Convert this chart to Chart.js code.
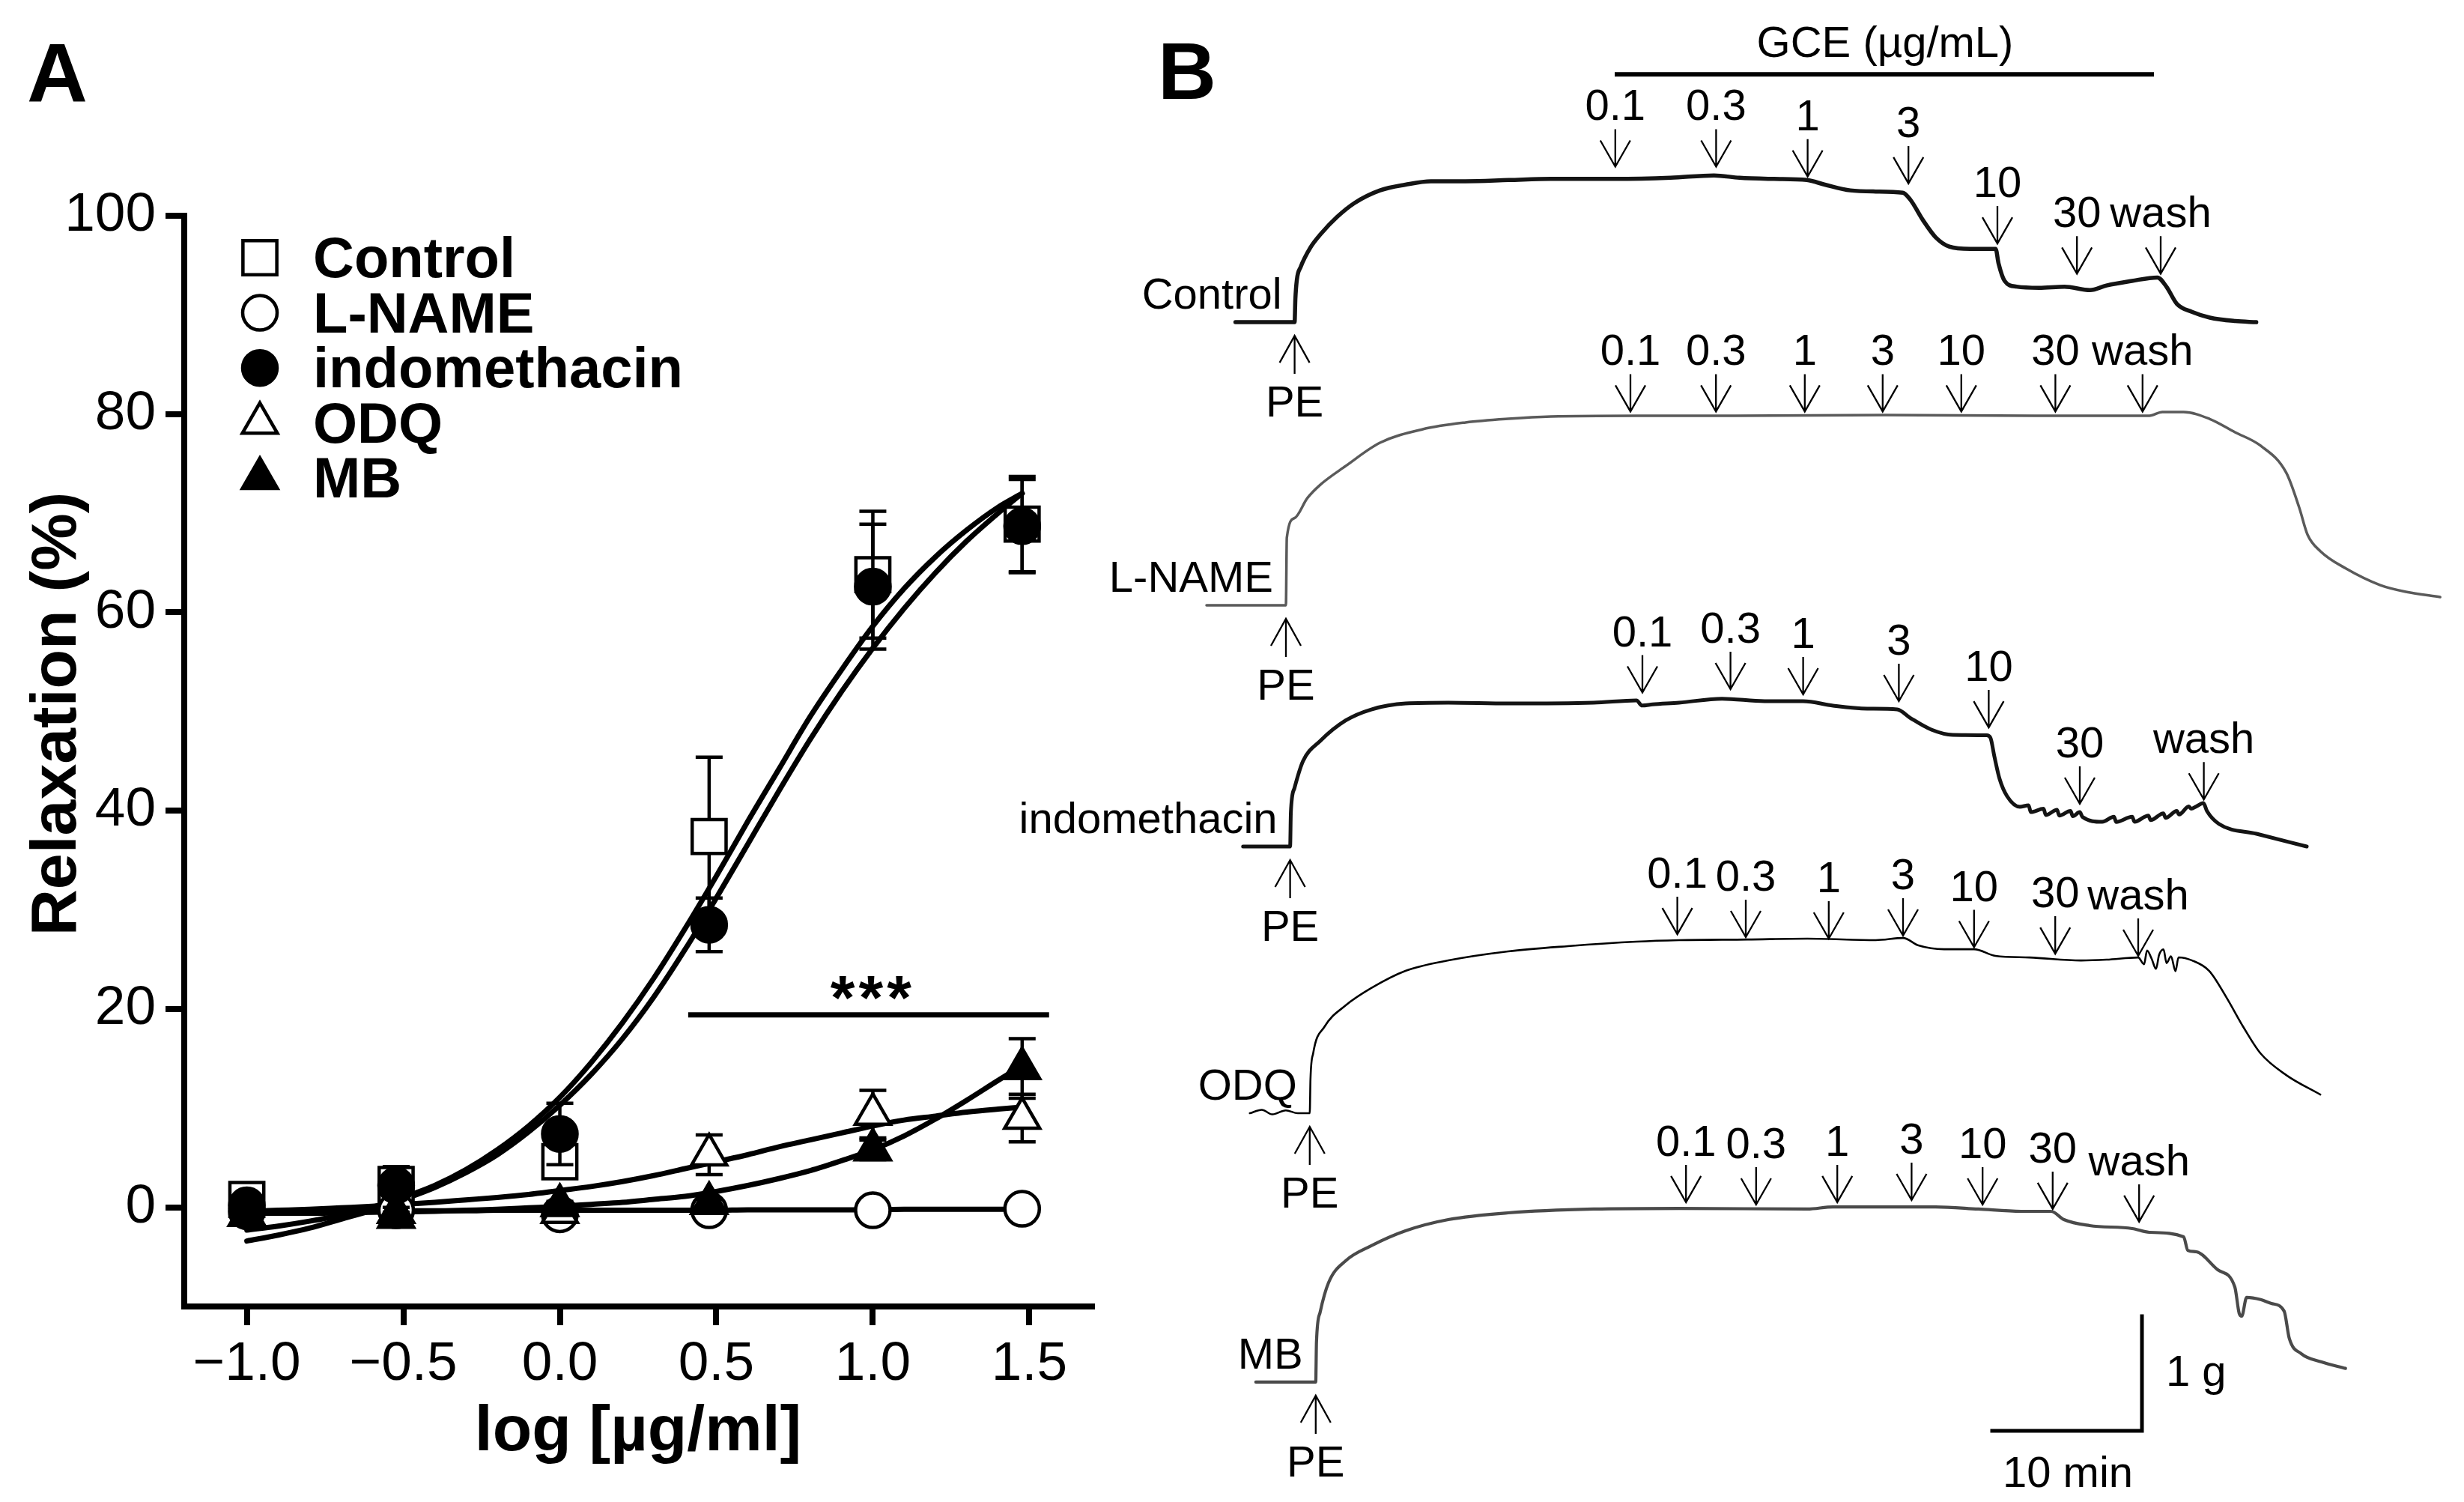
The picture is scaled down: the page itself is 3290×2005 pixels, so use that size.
<!DOCTYPE html>
<html>
<head>
<meta charset="utf-8">
<title>GCE relaxation</title>
<script src="https://cdn.jsdelivr.net/npm/chart.js@4.4.1/dist/chart.umd.min.js"></script>
<style>
  html, body { margin: 0; padding: 0; background: #fff; }
  #stage { position: relative; width: 3290px; height: 2005px; background: #fff; overflow: hidden; }
  #panelA { position: absolute; left: 0; top: 0; }
  #panelB { position: absolute; left: 1330px; top: 0; }
</style>
</head>
<body>
<div id="stage">
  <canvas id="panelA" width="1500" height="2005"></canvas>
  <canvas id="panelB" width="1960" height="2005"></canvas>
</div>
<script>
// ================= PANEL A DATA =================
const doseLog = [-1, -0.523, 0, 0.477, 1, 1.477];
const xTickValues = [-1.0, -0.5, 0.0, 0.5, 1.0, 1.5];
const xTickText = ['\u22121.0', '\u22120.5', '0.0', '0.5', '1.0', '1.5'];
const yTickValues = [0, 20, 40, 60, 80, 100];

const controlMean = [0.8, 2.3, 4.6, 37.4, 63.8, 68.9];
const controlSem  = [0.8, 1.8, 1.5, 8.0, 6.4, 4.8];
const lnameMean   = [-0.4, -0.3, -0.7, -0.3, -0.3, -0.15];
const lnameSem    = [0.3, 0.3, 0.5, 0.3, 0.3, 0.3];
const indoMean    = [0.2, 2.2, 7.4, 28.5, 62.6, 68.7];
const indoSem     = [0.6, 1.0, 3.1, 2.7, 6.3, 4.7];
const odqMean     = [-0.8, -0.5, -0.5, 5.3, 9.4, 9.0];
const odqSem      = [0.5, 0.5, 0.5, 2.0, 2.4, 2.4];
const mbMean      = [-0.8, -1.0, 0.2, 0.4, 5.8, 14.0];
const mbSem       = [0.5, 0.5, 0.4, 0.4, 1.0, 3.0];

const fitX = [-1.0,-0.9,-0.8,-0.7,-0.6,-0.5,-0.4,-0.3,-0.2,-0.1,0.0,0.1,0.2,0.3,0.4,0.5,0.6,0.7,0.8,0.9,1.0,1.1,1.2,1.3,1.4,1.477];
const controlFit = [-2.3,-1.9,-1.4,-0.8,0.0,1.0,2.2,3.8,5.8,8.2,11.1,14.6,18.6,23.1,28.1,33.4,38.9,44.2,49.5,54.2,58.6,62.4,65.6,68.3,70.6,72.0];
const lnameFit   = [-0.45,-0.45,-0.4,-0.4,-0.4,-0.35,-0.35,-0.35,-0.3,-0.3,-0.3,-0.3,-0.3,-0.3,-0.3,-0.3,-0.25,-0.25,-0.25,-0.25,-0.25,-0.2,-0.2,-0.2,-0.2,-0.2];
const indoFit    = [-3.4,-2.8,-2.1,-1.2,-0.3,0.8,2.0,3.5,5.3,7.6,10.3,13.4,17.0,21.2,26.0,31.2,36.6,42.0,47.2,52.0,56.4,60.4,64.0,67.2,70.0,72.0];
const odqFit     = [-0.4,-0.3,-0.2,-0.05,0.1,0.3,0.5,0.75,1.0,1.3,1.7,2.1,2.6,3.2,3.9,4.6,5.3,6.1,6.8,7.5,8.2,8.8,9.2,9.6,9.9,10.1];
const mbFit      = [-0.6,-0.6,-0.6,-0.55,-0.5,-0.45,-0.4,-0.3,-0.2,-0.05,0.1,0.3,0.5,0.8,1.1,1.6,2.2,2.9,3.7,4.7,5.8,7.2,8.9,10.8,12.8,14.3];

const sigBar = { x1: 0.41, x2: 1.563, y: 19.4, label: '***', labelX: 0.995, labelY: 22.55 };

// ================= PANEL B DATA (time in min after PE, tension in g above baseline) =================
const doseLabels = ['0.1', '0.3', '1', '3', '10', '30', 'wash'];

const controlT = [-3.95,0,0.05,0.15,0.4,1.05,1.75,2.85,4.0,5.7,7.4,9.1,11.4,14.3,17.1,21.4,25.1,28.0,29.7,32.0,34.2,35.4,37.1,38.8,40.6,41.1,41.95,42.8,43.7,45.1,46.8,47.0,47.4,48.2,49.7,51.4,53.1,54.2,55.9,57.6,58.2,58.9,59.9,61.1,62.8,64.2];
const controlG = [0,0,0.2,0.37,0.48,0.65,0.77,0.92,1.04,1.15,1.20,1.23,1.23,1.24,1.25,1.25,1.26,1.28,1.26,1.25,1.24,1.20,1.15,1.14,1.13,1.07,0.89,0.74,0.66,0.64,0.64,0.51,0.36,0.31,0.30,0.31,0.28,0.32,0.36,0.39,0.31,0.16,0.09,0.04,0.01,0.0];
const controlEvT = [21.41, 28.14, 34.25, 40.98, 46.92, 52.23, 57.82];
const controlTip = [1.357, 1.357, 1.27, 1.21, 0.686, 0.423, 0.423];

const lnameT = [-5.3,0,0.06,0.57,1.43,2.28,4.0,6.28,9.13,11.99,14.84,17.69,23.4,30,40,50,57.65,58.51,59.93,61.65,63.36,65.07,66.78,67.64,68.21,69.07,70.78,73.06,74.77,77.06];
const lnameG = [0,0,0.59,0.76,0.935,1.05,1.216,1.418,1.536,1.595,1.627,1.647,1.654,1.654,1.66,1.654,1.654,1.686,1.686,1.627,1.51,1.392,1.157,0.856,0.614,0.471,0.32,0.176,0.118,0.072];
const lnameEvT = [23.0, 28.71, 34.64, 39.84, 45.09, 51.37, 57.19];
const lnameTip = [1.69, 1.69, 1.69, 1.69, 1.69, 1.69, 1.69];

const indoT = [-3.14,0,0.05,0.29,0.86,2.0,3.71,5.42,7.71,10.56,14.56,20.26,23.12,23.5,24.2,25.97,28.83,31.68,34.25,36.25,38.53,40.53,41.38,42.81,44.24,46.5,46.75,47.02,47.37,47.87,48.72,49.3,49.45,50.3,50.45,51.2,51.35,52.1,52.25,52.72,52.9,54.22,55.0,55.15,56.22,56.37,57.3,57.45,58.3,58.45,59.2,59.35,60.0,60.15,60.5,60.97,61.22,62.02,64.52,67.87];
const indoG = [0,0,0.3,0.51,0.745,0.92,1.10,1.196,1.248,1.255,1.248,1.255,1.275,1.23,1.24,1.255,1.29,1.268,1.268,1.229,1.203,1.196,1.124,1.02,0.974,0.97,0.95,0.784,0.588,0.438,0.346,0.36,0.30,0.33,0.275,0.32,0.27,0.31,0.265,0.30,0.258,0.216,0.26,0.215,0.26,0.216,0.27,0.23,0.29,0.25,0.31,0.28,0.35,0.33,0.35,0.379,0.307,0.196,0.111,0.0];
const indoEvT = [23.52, 29.40, 34.25, 40.64, 46.64, 52.72, 61.0];
const indoTip = [1.343, 1.373, 1.327, 1.268, 1.039, 0.373, 0.41];

const odqT = [-4.0,-3.2,-2.5,-1.6,-0.8,0,0.05,0.23,0.97,2.40,4.11,6.39,9.25,13.24,17.24,21.80,24.66,29.22,33.22,37.79,39.61,40.64,42.35,44.35,45.78,48.06,51.49,53.20,55.31,55.7,55.9,56.2,56.5,56.7,57.0,57.2,57.5,57.8,58.0,58.91,60.05,61.19,62.33,63.47,65.19,67.47];
const odqG = [0,0.03,-0.01,0.025,0.0,0,0.3,0.523,0.752,0.941,1.092,1.242,1.333,1.412,1.458,1.497,1.51,1.516,1.523,1.51,1.529,1.464,1.431,1.431,1.373,1.359,1.333,1.34,1.359,1.30,1.42,1.35,1.26,1.38,1.43,1.31,1.37,1.24,1.36,1.333,1.242,1.013,0.752,0.523,0.333,0.163];
const odqEvT = [24.54, 29.11, 34.65, 39.61, 44.35, 49.77, 55.31];
const odqTip = [1.562, 1.536, 1.523, 1.549, 1.448, 1.392, 1.373];

const mbT = [-4.0,0,0.05,0.29,0.86,2.0,3.71,5.99,8.85,12.84,18.55,24.26,32.82,34.53,41.38,44.24,47.09,49.09,49.95,51.66,54.51,55.65,57.94,58.22,58.79,60.22,61.36,61.65,61.82,62.15,63.08,63.8,64.65,65.0,65.8,67.15,68.75];
const mbG = [0,0,0.35,0.608,0.869,1.059,1.19,1.32,1.418,1.477,1.51,1.516,1.51,1.529,1.529,1.51,1.49,1.49,1.418,1.366,1.34,1.307,1.268,1.15,1.137,0.98,0.83,0.6,0.575,0.739,0.72,0.686,0.62,0.379,0.248,0.176,0.12];
const mbEvT = [24.72, 29.40, 34.82, 39.78, 44.52, 49.20, 54.97];
const mbTip = [1.569, 1.549, 1.569, 1.588, 1.549, 1.51, 1.399];

const scaleBarMin = 10;   // minutes
const scaleBarG = 1;      // grams

// ================= LAYOUT / STYLE =================
const FONT = '"Liberation Sans", Arial, Helvetica, sans-serif';

const seriesA = [
  { label: 'Control',      mean: controlMean, sem: controlSem, fit: controlFit, style: 'rect',     r: 32, fill: '#ffffff', order: 5 },
  { label: 'L-NAME',       mean: lnameMean,   sem: lnameSem,   fit: lnameFit,   style: 'circle',   r: 23, fill: '#ffffff', order: 4 },
  { label: 'indomethacin', mean: indoMean,    sem: indoSem,    fit: indoFit,    style: 'circle',   r: 23, fill: '#000000', order: 3 },
  { label: 'ODQ',          mean: odqMean,     sem: odqSem,     fit: odqFit,     style: 'triangle', r: 27, fill: '#ffffff', order: 2 },
  { label: 'MB',           mean: mbMean,      sem: mbSem,      fit: mbFit,      style: 'triangle', r: 27, fill: '#000000', order: 1 }
];

const tracesB = [
  { name: 'Control',      t: controlT, g: controlG, evT: controlEvT, tip: controlTip, place: { t0: 11.43, base: 10.294 }, color: '#141414', width: 5.5 },
  { name: 'L-NAME',       t: lnameT,   g: lnameG,   evT: lnameEvT,   tip: lnameTip,   place: { t0: 10.85, base: 7.824 },  color: '#5a5a5a', width: 3.5 },
  { name: 'indomethacin', t: indoT,    g: indoG,    evT: indoEvT,    tip: indoTip,    place: { t0: 11.13, base: 5.719 },  color: '#141414', width: 5 },
  { name: 'ODQ',          t: odqT,     g: odqG,     evT: odqEvT,     tip: odqTip,     place: { t0: 12.44, base: 3.392 },  color: '#000000', width: 2.6 },
  { name: 'MB',           t: mbT,      g: mbG,      evT: mbEvT,      tip: mbTip,      place: { t0: 12.84, base: 1.046 },  color: '#4a4a4a', width: 4.2 }
];

// ================= HELPERS =================
function drawMarker(ctx, style, r, x, y, fill, bw) {
  ctx.save();
  ctx.fillStyle = fill; ctx.strokeStyle = '#000'; ctx.lineWidth = bw;
  ctx.beginPath();
  if (style === 'rect') {
    const s = 2 * r * Math.SQRT1_2;
    ctx.rect(x - s / 2, y - s / 2, s, s);
  } else if (style === 'circle') {
    ctx.arc(x, y, r, 0, Math.PI * 2);
  } else {
    ctx.moveTo(x, y - r);
    ctx.lineTo(x + 0.866 * r, y + r / 2);
    ctx.lineTo(x - 0.866 * r, y + r / 2);
    ctx.closePath();
  }
  ctx.fill(); ctx.stroke();
  ctx.restore();
}

// ================= PANEL A =================
const annotA = {
  id: 'annotA',
  beforeDatasetDraw(chart, args) {
    const ds = chart.data.datasets[args.index];
    if (!ds.sem) return;
    const { ctx, scales: { x, y } } = chart;
    ctx.save();
    ctx.strokeStyle = '#000'; ctx.lineWidth = 4.5; ctx.lineCap = 'butt';
    ds.data.forEach((p, i) => {
      const e = ds.sem[i];
      if (!e) return;
      const px = x.getPixelForValue(p.x);
      const yt = y.getPixelForValue(p.y + e), yb = y.getPixelForValue(p.y - e);
      ctx.beginPath();
      ctx.moveTo(px, yt); ctx.lineTo(px, yb);
      ctx.moveTo(px - 18, yt); ctx.lineTo(px + 18, yt);
      ctx.moveTo(px - 18, yb); ctx.lineTo(px + 18, yb);
      ctx.stroke();
    });
    ctx.restore();
  },
  afterDraw(chart) {
    const { ctx, chartArea, scales: { x, y } } = chart;
    ctx.save();
    ctx.fillStyle = '#000';
    ctx.fillRect(chartArea.left - 4, chartArea.bottom - 4, 8, 8);
    ctx.strokeStyle = '#000'; ctx.lineWidth = 7; ctx.lineCap = 'butt';
    const sy = y.getPixelForValue(sigBar.y);
    ctx.beginPath(); ctx.moveTo(x.getPixelForValue(sigBar.x1), sy); ctx.lineTo(x.getPixelForValue(sigBar.x2), sy); ctx.stroke();
    ctx.fillStyle = '#000';
    ctx.font = 'bold 84px ' + FONT;
    ctx.textAlign = 'center'; ctx.textBaseline = 'alphabetic';
    try { ctx.letterSpacing = '5px'; } catch (e) {}
    ctx.fillText(sigBar.label, x.getPixelForValue(sigBar.labelX) + 2, y.getPixelForValue(sigBar.labelY) + 48);
    try { ctx.letterSpacing = '0px'; } catch (e) {}
    seriesA.forEach((s, i) => {
      const cy = 344 + i * 73.6;
      drawMarker(ctx, s.style, s.r, 347, cy, s.fill, 4.5);
      ctx.fillStyle = '#000';
      ctx.font = 'bold 76px ' + FONT;
      ctx.textAlign = 'left'; ctx.textBaseline = 'alphabetic';
      ctx.fillText(s.label, 418, cy + 26);
    });
    ctx.font = 'bold 86px ' + FONT;
    ctx.textAlign = 'center'; ctx.textBaseline = 'alphabetic';
    ctx.fillText('log [\u00b5g/ml]', 852, 1936);
    ctx.save();
    ctx.translate(101, 953);
    ctx.rotate(-Math.PI / 2);
    ctx.fillText('Relaxation (%)', 0, 0);
    ctx.restore();
    ctx.font = 'bold 112px ' + FONT;
    ctx.textAlign = 'left';
    ctx.fillText('A', 36, 136);
    ctx.restore();
  }
};

const datasetsA = [];
seriesA.forEach((s) => {
  datasetsA.push({
    label: s.label + ' fit',
    data: fitX.map((v, i) => ({ x: v, y: s.fit[i] })),
    showLine: true, pointRadius: 0, borderColor: '#000', borderWidth: 7,
    cubicInterpolationMode: 'monotone', borderCapStyle: 'round', borderJoinStyle: 'round',
    order: 20, clip: false
  });
});
seriesA.forEach((s) => {
  datasetsA.push({
    label: s.label,
    data: doseLog.map((v, i) => ({ x: v, y: s.mean[i] })),
    sem: s.sem,
    showLine: false, pointStyle: s.style, pointRadius: s.r,
    pointBackgroundColor: s.fill, pointBorderColor: '#000', pointBorderWidth: 4.5,
    order: s.order, clip: false
  });
});

new Chart(document.getElementById('panelA'), {
  type: 'scatter',
  data: { datasets: datasetsA },
  options: {
    responsive: false, animation: false, devicePixelRatio: 1,
    layout: { padding: { left: 0, top: 288, right: 42, bottom: 0 } },
    plugins: { legend: { display: false }, tooltip: { enabled: false }, title: { display: false } },
    scales: {
      x: {
        type: 'linear', position: 'bottom', min: -1.2, max: 1.7,
        afterBuildTicks: (s) => { s.ticks = xTickValues.map(v => ({ value: v })); },
        afterFit: (s) => { s.height = 261; },
        ticks: {
          autoSkip: false, maxRotation: 0, padding: 9, color: '#000',
          font: { family: FONT, size: 73 },
          callback: (v) => { const k = xTickValues.findIndex(t => Math.abs(t - v) < 1e-6); return k >= 0 ? xTickText[k] : ''; }
        },
        grid: { display: true, drawOnChartArea: false, drawTicks: true, tickLength: 25, tickWidth: 8, lineWidth: 8, tickColor: '#000', color: '#000' },
        border: { display: true, color: '#000', width: 8 }
      },
      y: {
        type: 'linear', position: 'left', min: -10, max: 100,
        afterBuildTicks: (s) => { s.ticks = yTickValues.map(v => ({ value: v })); },
        afterFit: (s) => { s.width = 246; },
        ticks: { autoSkip: false, padding: 13, color: '#000', font: { family: FONT, size: 73 }, callback: (v) => String(v) },
        grid: { display: true, drawOnChartArea: false, drawTicks: true, tickLength: 25, tickWidth: 8, lineWidth: 8, tickColor: '#000', color: '#000' },
        border: { display: true, color: '#000', width: 8 }
      }
    }
  },
  plugins: [annotA]
});

// ================= PANEL B =================
function arrowDown(ctx, x, tipY) {
  ctx.beginPath();
  ctx.moveTo(x, tipY - 50); ctx.lineTo(x, tipY);
  ctx.moveTo(x - 20, tipY - 35); ctx.lineTo(x, tipY); ctx.lineTo(x + 20, tipY - 35);
  ctx.stroke();
}
function arrowUp(ctx, x, tipY) {
  ctx.beginPath();
  ctx.moveTo(x, tipY + 51); ctx.lineTo(x, tipY);
  ctx.moveTo(x - 20, tipY + 36); ctx.lineTo(x, tipY); ctx.lineTo(x + 20, tipY + 36);
  ctx.stroke();
}

const annotB = {
  id: 'annotB',
  afterDraw(chart) {
    const { ctx, scales: { x, y } } = chart;
    ctx.save();
    ctx.strokeStyle = '#000'; ctx.fillStyle = '#000';
    ctx.lineWidth = 2.3; ctx.lineCap = 'butt'; ctx.lineJoin = 'miter';
    ctx.font = '58px ' + FONT;
    tracesB.forEach((tr) => {
      const pex = x.getPixelForValue(tr.place.t0);
      const basey = y.getPixelForValue(tr.place.base);
      arrowUp(ctx, pex, basey + 18);
      ctx.textAlign = 'center'; ctx.textBaseline = 'alphabetic';
      ctx.fillText('PE', pex, basey + 126);
      ctx.textAlign = 'right';
      ctx.fillText(tr.name, pex - 17, basey - 18);
      ctx.textAlign = 'center';
      tr.evT.forEach((t, i) => {
        const ax = x.getPixelForValue(tr.place.t0 + t);
        const ty = y.getPixelForValue(tr.place.base + tr.tip[i]);
        arrowDown(ctx, ax, ty);
        ctx.fillText(doseLabels[i], ax, ty - 62);
      });
    });
    const gx1 = x.getPixelForValue(32.8), gx2 = x.getPixelForValue(68.8), gy = y.getPixelForValue(12.457);
    ctx.lineWidth = 6;
    ctx.beginPath(); ctx.moveTo(gx1, gy); ctx.lineTo(gx2, gy); ctx.stroke();
    ctx.textAlign = 'center';
    ctx.fillText('GCE (\u00b5g/mL)', x.getPixelForValue(50.85), y.getPixelForValue(12.608));
    const sbT = 68.0, sbG = 0.621;
    ctx.lineWidth = 5; ctx.lineCap = 'square';
    ctx.beginPath();
    ctx.moveTo(x.getPixelForValue(sbT - scaleBarMin), y.getPixelForValue(sbG));
    ctx.lineTo(x.getPixelForValue(sbT), y.getPixelForValue(sbG));
    ctx.lineTo(x.getPixelForValue(sbT), y.getPixelForValue(sbG + scaleBarG));
    ctx.stroke();
    ctx.textAlign = 'left';
    ctx.fillText(scaleBarG + ' g', x.getPixelForValue(69.6), y.getPixelForValue(1.013));
    ctx.textAlign = 'center';
    ctx.fillText(scaleBarMin + ' min', x.getPixelForValue(63.05), y.getPixelForValue(0.131));
    ctx.font = 'bold 108px ' + FONT;
    ctx.textAlign = 'left';
    ctx.fillText('B', x.getPixelForValue(2.3), 132);
    ctx.restore();
  }
};

new Chart(document.getElementById('panelB'), {
  type: 'scatter',
  data: {
    datasets: tracesB.map((tr) => ({
      label: tr.name,
      data: tr.t.map((t, i) => ({ x: tr.place.t0 + t, y: tr.place.base + tr.g[i] })),
      showLine: true, pointRadius: 0, borderColor: tr.color, borderWidth: tr.width,
      cubicInterpolationMode: 'monotone', borderJoinStyle: 'round', borderCapStyle: 'round', clip: false
    }))
  },
  options: {
    responsive: false, animation: false, devicePixelRatio: 1,
    layout: { padding: 0 },
    plugins: { legend: { display: false }, tooltip: { enabled: false } },
    scales: {
      x: { type: 'linear', display: false, min: -8.5, max: 89.5 },
      y: { type: 'linear', display: false, min: 0, max: 13.105 }
    }
  },
  plugins: [annotB]
});
</script>
</body>
</html>
